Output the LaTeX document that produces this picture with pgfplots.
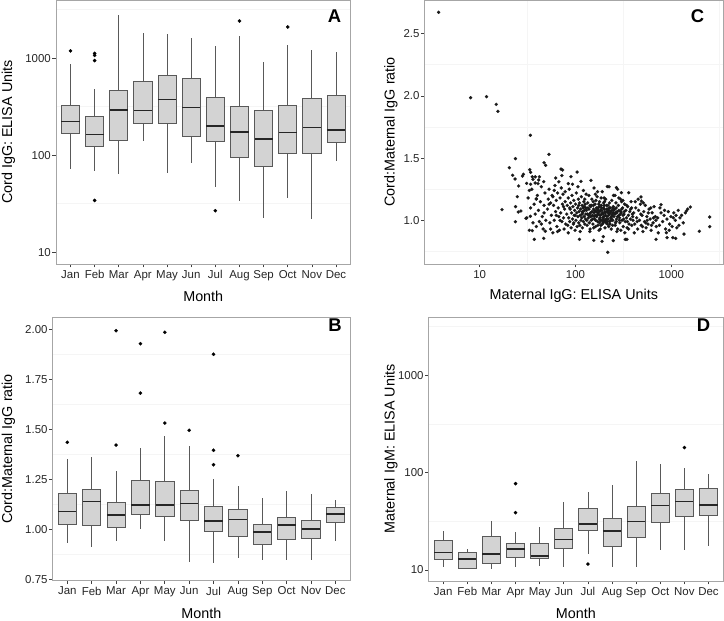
\documentclass[border=0pt]{standalone}
\usepackage{pgfplots}
\pgfplotsset{compat=1.18}
\usepackage{pgfplotstable}
\usepgfplotslibrary{statistics}
\usepackage{fontspec}
\setmainfont{Liberation Sans}
\definecolor{boxfill}{HTML}{D3D3D3}
\definecolor{boxline}{HTML}{595959}
\definecolor{framegray}{HTML}{A6A6A6}
\definecolor{gridgray}{HTML}{F5F5F5}

\pgfplotstableread{
x y
3.73 2.672
8.05 1.986
11.8 1.994
14.9 1.932
15.5 1.876
33.8 1.683
17.1 1.086
20.4 1.423
22.1 1.362
23.6 1.496
23.4 1.332
25.5 1.276
23.7 1.110
23.6 0.989
24.7 1.190
25.3 1.067
26.9 1.075
28.0 1.356
28.6 1.370
30.4 1.016
30.9 1.297
33.3 1.407
34.0 1.386
33.8 1.032
35.4 0.917
37.2 0.847
35.4 1.350
38.0 1.350
41.3 1.324
39.0 1.174
40.6 1.295
46.6 1.311
47.0 1.463
48.8 1.442
52.8 1.530
46.6 0.855
48.4 0.912
62.1 1.340
70.6 1.412
73.3 1.404
89.7 1.351
104 1.388
84.2 1.295
114 1.313
145 1.321
170 1.230
215 1.271
267 1.263
301 1.222
359 1.222
482 1.188
487 1.155
780 1.126
1578 1.107
1435 1.075
2512 1.027
2512 0.949
1959 0.912
217 0.743
110 0.847
155 0.839
189 0.831
195 0.869
248 0.837
331 0.847
344 0.847
692 0.847
887 0.901
1109 0.855
1036 0.861
902 0.861
1355 0.890
31 1.02
32 1.18
33 0.92
34 1.10
35 1.25
36 0.98
37 1.13
38 1.30
38 1.05
39 0.95
40 1.20
41 1.08
42 0.99
43 1.15
44 1.27
45 1.03
46 0.93
47 1.12
48 1.22
49 1.00
36 1.33
42 1.35
34 1.29
47 1.06
44 0.97
39 1.17
33 1.24
51 1.09
52 1.17
53 1.25
54 0.98
55 1.14
56 1.04
57 1.20
58 0.90
59 1.12
60 1.00
61 1.28
62 1.07
63 1.16
64 0.95
65 1.22
66 1.10
67 1.03
68 0.92
69 1.18
70 1.06
71 1.26
72 0.99
73 1.13
74 1.21
75 1.02
76 0.93
77 1.09
78 1.15
79 0.97
55 0.93
58 1.19
63 1.04
67 1.31
72 1.36
75 1.11
53 1.13
60 1.24
69 1.00
78 1.23
65 0.91
81 1.05
82 1.12
83 0.96
84 1.18
85 1.02
86 1.25
87 0.99
88 1.09
89 1.14
90 0.94
91 1.06
92 1.20
93 1.01
94 1.11
95 0.97
96 1.16
97 1.04
98 1.08
99 0.92
100 1.13
101 1.00
102 1.22
103 1.06
104 0.95
105 1.10
106 1.03
107 1.17
108 0.98
109 1.07
110 1.14
111 0.96
112 1.04
113 1.09
114 1.00
115 1.19
116 1.02
117 1.12
118 0.94
119 1.06
120 1.10
121 0.99
122 1.15
123 1.03
124 1.08
125 0.97
126 1.13
127 1.01
128 1.05
129 1.21
84 0.90
93 1.29
106 1.27
99 1.04
112 0.91
121 1.24
87 1.10
96 0.98
108 1.12
117 1.05
125 1.17
130 1.08
132 0.96
134 1.14
136 1.02
138 1.20
140 1.05
142 0.93
144 1.11
146 1.00
148 1.17
150 1.04
152 0.97
154 1.09
156 1.26
158 1.01
160 1.13
162 0.95
164 1.07
166 1.03
168 1.19
170 0.99
172 1.10
174 1.05
176 0.92
178 1.15
180 1.02
182 1.08
184 0.96
186 1.12
188 1.00
190 1.23
192 1.06
194 0.98
196 1.14
198 1.03
200 1.09
203 0.94
206 1.17
209 1.01
212 1.07
215 0.97
218 1.12
221 1.04
224 1.27
227 0.99
230 1.10
233 1.02
236 0.93
239 1.16
242 1.05
245 1.00
248 1.11
131 1.00
135 1.10
139 0.98
143 1.06
147 1.12
151 1.01
155 0.94
159 1.08
163 1.16
167 1.04
171 0.96
175 1.13
179 1.07
183 1.00
187 1.05
191 0.97
195 1.10
199 1.18
204 1.06
208 0.98
213 1.03
217 1.09
222 0.95
226 1.14
231 1.06
235 1.00
240 1.08
244 0.96
249 1.20
157 1.03
177 1.01
197 0.99
219 1.01
238 1.03
137 1.04
153 1.15
173 1.08
193 1.02
211 1.12
229 0.97
247 1.06
141 0.91
161 1.21
181 0.93
201 1.15
225 1.05
185 1.18
205 1.00
252 1.03
256 1.09
260 0.96
264 1.14
268 1.01
272 1.07
276 0.93
280 1.12
285 1.04
290 0.98
295 1.17
300 1.06
305 1.00
310 1.10
315 0.95
320 1.05
325 1.13
330 0.99
335 1.08
340 1.02
345 0.94
350 1.11
356 1.04
362 0.97
368 1.07
374 1.01
380 1.15
386 0.96
392 1.05
398 1.00
258 1.20
270 0.91
283 1.18
297 0.92
312 1.16
327 0.90
342 1.12
358 0.93
376 1.09
395 1.03
262 1.06
288 1.02
318 1.01
348 0.99
385 1.10
275 1.25
302 1.15
266 0.99
405 1.06
415 0.97
425 1.10
435 1.02
445 0.93
455 1.08
465 1.00
475 1.13
485 0.96
495 1.04
505 0.91
515 1.07
525 0.99
535 1.12
545 0.94
555 1.03
570 0.97
585 1.09
600 1.01
615 0.92
630 1.06
645 0.98
660 1.11
680 1.03
695 0.95
420 1.15
450 1.17
480 1.05
510 1.14
540 0.98
575 1.06
610 1.10
650 1.02
690 1.00
440 0.99
500 0.95
560 1.00
620 0.96
410 0.90
720 1.02
750 0.96
780 1.06
810 0.99
840 1.04
870 0.93
900 1.01
930 1.07
960 0.97
990 1.03
1020 0.95
1060 1.06
1100 1.00
1140 0.94
1180 1.08
1230 1.02
1280 1.04
1330 0.98
1400 1.06
1480 1.09
760 1.10
850 1.08
1050 1.02
1200 0.96
950 0.92
1120 1.04
730 0.90
118 1.07
123 1.11
133 1.05
138 1.09
144 1.03
149 1.07
154 1.12
160 1.04
165 1.10
171 1.06
177 1.11
182 1.04
188 1.08
194 1.05
200 1.12
206 1.04
212 1.09
219 1.06
226 1.10
233 1.07
241 1.04
250 1.08
258 1.05
266 1.10
275 1.03
284 1.08
293 1.05
303 1.09
313 1.04
323 1.07
128 1.10
142 1.12
156 1.06
169 1.09
186 1.10
203 1.07
222 1.08
245 1.10
270 1.06
296 1.07
162 1.00
178 0.98
196 1.01
216 0.99
238 1.01
261 0.98
287 1.00
}\scat

\pgfplotsset{
  panel/.style={
    scale only axis,
    axis line style={draw=framegray, line width=0.8bp},
    tick align=outside,
    xtick pos=left, ytick pos=left,
    major tick length=3.5bp,
    minor tick length=0pt,
    tick style={draw=black!75, line width=0.6bp},
    tick label style={font=\fontsize{11.5}{13}\selectfont, text=black!85},
    yticklabel style={inner sep=1.5bp},
    xticklabel style={inner sep=2.5bp},
    /pgf/number format/assume math mode=true,
    xmajorgrids=false, ymajorgrids=false,
    minor grid style={draw=gridgray, line width=0.8bp},
  },
  months/.style={
    xmin=0.4, xmax=12.6, xtick={1,2,3,4,5,6,7,8,9,10,11,12},
    xticklabels={Jan,Feb,Mar,Apr,May,Jun,Jul,Aug,Sep,Oct,Nov,Dec},
    xlabel={Month},
  },
  ylab/.style={every axis y label/.style={at={(axis description cs:#1,0.5)}, rotate=90, anchor=center, font=\fontsize{14.4}{16}\selectfont}},
  xlab/.style={every axis x label/.style={at={(axis description cs:0.5,#1)}, anchor=center, font=\fontsize{14.4}{16}\selectfont}},
  bxs/.style={
    draw=boxline, line width=0.8bp,
    mark=*, mark size=1.7bp, mark options={draw=black, fill=black, line width=0.2bp},
    boxplot/draw direction=y, boxplot/box extend=0.75, boxplot/whisker extend=0,
    boxplot/every box/.style={fill=boxfill, draw=boxline, line width=0.8bp},
    boxplot/every median/.style={draw=black!85, line width=1.6bp},
    boxplot/every whisker/.style={draw=boxline, line width=0.8bp},
  },
}
\newcommand{\bx}[7]{\addplot[bxs, boxplot prepared={draw position=#1, lower whisker=#2, lower quartile=#3, median=#4, upper quartile=#5, upper whisker=#6}] table[header=false, row sep=\\, y index=0] {#7};}
\newcommand{\bxn}[6]{\addplot[bxs, boxplot prepared={draw position=#1, lower whisker=#2, lower quartile=#3, median=#4, upper quartile=#5, upper whisker=#6}] coordinates {};}
\newcommand{\plabel}[3]{\node[font=\bfseries\fontsize{18.5}{20}\selectfont, anchor=center] at (rel axis cs:#1,#2) {#3};}

\begin{document}
\begin{tikzpicture}
\path[use as bounding box] (0,0) rectangle (724bp,621bp);

% Panel A
\begin{axis}[panel, months, at={(56bp,357bp)}, anchor=south west,
  width=294.5bp, height=264bp,
  ymode=log, ymin=7.57, ymax=3981,
  ytick={10,100,1000}, yticklabels={10,100,1000},
  minor ytick={31.62,316.2,3162}, yminorgrids=true,
  ylabel={Cord IgG: ELISA Units}, ylab=-0.162, xlab=-0.121,
]
\bx{1}{72.4}{168}{222}{327}{867}{1190\\}
\bx{2}{69}{124}{163}{252}{476}{1120\\1070\\946\\34.2\\}
\bxn{3}{64.3}{143}{294}{469}{2770}
\bxn{4}{139}{211}{290}{576}{1837}
\bxn{5}{65}{215}{376}{668}{1780}
\bxn{6}{82.8}{156}{309}{614}{1600}
\bx{7}{46.9}{140}{200}{391}{1350}{26.8\\}
\bx{8}{34}{94.6}{174}{316}{1683}{2420\\}
\bxn{9}{22.3}{75.9}{146}{290}{910}
\bx{10}{36.1}{104}{172}{324}{1380}{2100\\}
\bxn{11}{21.8}{104}{194}{388}{1218}
\bxn{12}{88}{135}{182}{417}{1152}
\plabel{0.946}{0.939}{A}
\end{axis}

% Panel C
\begin{axis}[panel, at={(424.7bp,357bp)}, anchor=south west,
  width=298.3bp, height=264bp,
  xmode=log, xmin=2.67, xmax=3459,
  ymin=0.649, ymax=2.771,
  xtick={10,100,1000}, xticklabels={10,100,1000},
  minor xtick={31.62,316.2,3162}, xminorgrids=true,
  ytick={1.0,1.5,2.0,2.5}, yticklabels={1.0,1.5,2.0,2.5},
  minor ytick={0.75,1.25,1.75,2.25}, yminorgrids=true,
  xlabel={Maternal IgG: ELISA Units},
  ylabel={Cord:Maternal IgG ratio}, ylab=-0.113, xlab=-0.121,
]
\addplot[only marks, mark=*, mark size=1.6bp, mark options={draw=black!90, fill=black!90, line width=0.2bp}] table[x=x, y=y] {\scat};
\plabel{0.915}{0.939}{C}
\end{axis}

% Panel B
\begin{axis}[panel, months, at={(52.7bp,40.3bp)}, anchor=south west,
  width=297.3bp, height=263.4bp,
  ymin=0.745, ymax=2.062,
  ytick={0.75,1.00,1.25,1.50,1.75,2.00}, yticklabels={0.75,1.00,1.25,1.50,1.75,2.00},
  minor ytick={0.875,1.125,1.375,1.625,1.875}, yminorgrids=true,
  ylabel={Cord:Maternal IgG ratio}, ylab=-0.149, xlab=-0.124,
]
\bx{1}{0.932}{1.025}{1.09}{1.182}{1.353}{1.437\\}
\bxn{2}{0.915}{1.023}{1.14}{1.202}{1.365}
\bx{3}{0.943}{1.012}{1.073}{1.137}{1.295}{1.995\\1.423\\}
\bx{4}{1.003}{1.075}{1.123}{1.248}{1.41}{1.93\\1.683\\}
\bx{5}{0.945}{1.067}{1.122}{1.243}{1.47}{1.987\\1.533\\}
\bx{6}{0.837}{1.045}{1.13}{1.195}{1.417}{1.497\\}
\bx{7}{0.835}{0.992}{1.043}{1.117}{1.253}{1.877\\1.397\\1.325\\}
\bx{8}{0.86}{0.967}{1.05}{1.102}{1.22}{1.37\\}
\bxn{9}{0.848}{0.927}{0.987}{1.027}{1.157}
\bxn{10}{0.848}{0.953}{1.022}{1.062}{1.193}
\bxn{11}{0.847}{0.957}{1.003}{1.047}{1.177}
\bxn{12}{0.942}{1.038}{1.078}{1.11}{1.148}
\plabel{0.95}{0.971}{B}
\end{axis}

% Panel D
\begin{axis}[panel, months, at={(428.7bp,40bp)}, anchor=south west,
  width=294.3bp, height=263.7bp,
  ymode=log, ymin=7.7, ymax=3945,
  ytick={10,100,1000}, yticklabels={10,100,1000},
  minor ytick={31.62,316.2,3162}, yminorgrids=true,
  ylabel={Maternal IgM: ELISA Units}, ylab=-0.128, xlab=-0.124,
]
\bxn{1}{10.6}{12.9}{15.1}{20.2}{25.4}
\bxn{2}{10.2}{10.4}{12.9}{15.1}{16.3}
\bxn{3}{10.3}{11.6}{14.6}{22.0}{31.6}
\bx{4}{10.8}{13.6}{16.5}{18.7}{24.8}{77.1\\38.8\\}
\bxn{5}{11.1}{13.1}{13.9}{18.7}{27.9}
\bxn{6}{10.7}{16.7}{20.5}{26.6}{49.6}
\bx{7}{14.5}{25.4}{29.7}{42.7}{62.8}{11.5\\}
\bxn{8}{10.6}{17.5}{25.2}{33.6}{74.6}
\bxn{9}{10.6}{21.5}{31.6}{44.8}{132}
\bxn{10}{15.9}{30.9}{45.8}{60.8}{123}
\bx{11}{16.2}{35.9}{50.4}{67.5}{111}{181\\}
\bxn{12}{17.8}{36.7}{46.2}{69.5}{96.8}
\plabel{0.934}{0.971}{D}
\end{axis}
\end{tikzpicture}
\end{document}
